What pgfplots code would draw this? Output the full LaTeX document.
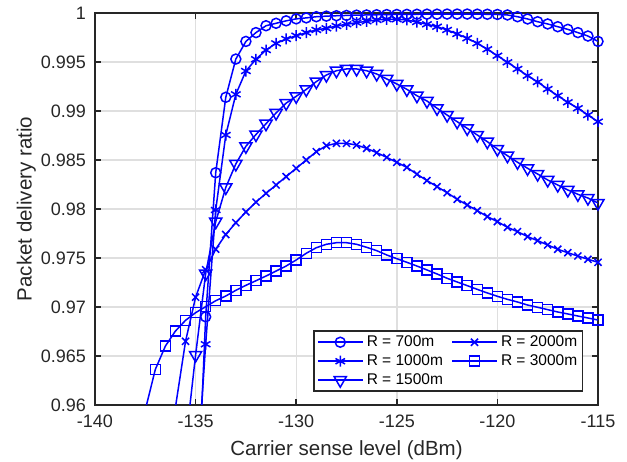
\documentclass[border=0pt]{standalone}
\usepackage{fontspec}
\setmainfont{Liberation Sans}
\usepackage{pgfplots}
\pgfplotsset{compat=1.18}
\definecolor{axgray}{RGB}{38,38,38}
\definecolor{gridgray}{RGB}{223,223,223}
\definecolor{mblue}{RGB}{0,0,255}

\begin{document}
\begin{tikzpicture}
\useasboundingbox (-95bp,-57bp) rectangle (532bp,405bp);
\begin{axis}[
    at={(0,0)}, anchor=south west,
    scale only axis,
    width=503bp, height=392bp,
    xmin=-140, xmax=-115,
    ymin=0.96, ymax=1,
    xtick={-140,-135,-130,-125,-120,-115},
    xticklabels={-140,-135,-130,-125,-120,-115},
    ytick={0.96,0.965,0.97,0.975,0.98,0.985,0.99,0.995,1},
    yticklabels={0.96,0.965,0.97,0.975,0.98,0.985,0.99,0.995,1},
    tick align=inside,
    major tick length=6bp,
    axis line style={axgray, line width=1.6bp},
    every tick/.style={axgray, line width=1.6bp},
    grid=major,
    major grid style={gridgray, line width=1.4bp},
    xticklabel style={font=\fontsize{18bp}{20bp}\selectfont, text=axgray, anchor=base, inner sep=0pt, yshift=-23bp},
    yticklabel style={font=\fontsize{18bp}{20bp}\selectfont, text=axgray, anchor=east, inner sep=0pt, xshift=-9bp},
    xlabel={Carrier sense level (dBm)},
    ylabel={Packet delivery ratio},
    every axis x label/.style={at={(axis description cs:0.5,-0.1276)}, anchor=base, font=\fontsize{20.5bp}{23bp}\selectfont, text=axgray},
    every axis y label/.style={at={(axis description cs:-0.1262,0.5)}, rotate=90, anchor=base, font=\fontsize{20.5bp}{23bp}\selectfont, text=axgray},
    legend columns=2,
    legend cell align=left,
    legend image code/.code={%
        \pgfpathrectangle{\pgfpoint{0bp}{-4bp}}{\pgfpoint{45bp}{8bp}}%
        \pgfusepath{use as bounding box}%
        \draw[mark repeat=2,mark phase=2] plot coordinates {(0bp,0bp) (22.5bp,0bp) (45bp,0bp)};},
    legend style={
        at={(axis description cs:0.9702,0.0332)}, anchor=south east,
        draw=axgray, line width=1.5bp, fill=white,
        font=\fontsize{15.5bp}{17bp}\selectfont,
        inner xsep=4bp, inner ysep=3bp,
        row sep=3bp,
        nodes={inner sep=1bp, text height=11bp, text depth=3bp},
        /tikz/every odd column/.append style={column sep=3bp},
        /tikz/every even column/.append style={column sep=8bp},
    },
    every axis plot/.append style={mblue, line width=1.5bp},
]

% R = 700m
\addplot[mark=o, mark size=5bp] coordinates {
(-135,0.945) (-134.5,0.9690) (-134,0.9837) (-133.5,0.9914) (-133,0.9953) (-132.5,0.9971)
(-132,0.9980) (-131.5,0.9987) (-131,0.99895) (-130.5,0.9992) (-130,0.9994) (-129.5,0.9995)
(-129,0.99962) (-128.5,0.99968) (-128,0.99972) (-127.5,0.99975) (-127,0.99978) (-126.5,0.99980)
(-126,0.99982) (-125.5,0.99984) (-125,0.99985) (-124.5,0.99986) (-124,0.99987) (-123.5,0.99988)
(-123,0.99988) (-122.5,0.99989) (-122,0.99989) (-121.5,0.99989) (-121,0.99988) (-120.5,0.99987)
(-120,0.99985) (-119.5,0.9998) (-119,0.99962) (-118.5,0.99939) (-118,0.99911) (-117.5,0.99888)
(-117,0.9986) (-116.5,0.99833) (-116,0.9980) (-115.5,0.99765) (-115,0.9971)
};
\addlegendentry{R = 700m}

% R = 2000m
\addplot[mark=x, mark size=5bp] coordinates {
(-136.5,0.951) (-136,0.9598) (-135.5,0.9665) (-135,0.9710) (-134.5,0.9738) (-134,0.9759)
(-133.5,0.9774) (-133,0.9786) (-132.5,0.9797) (-132,0.9807) (-131.5,0.9816) (-131,0.98245)
(-130.5,0.9833) (-130,0.98415) (-129.5,0.9850) (-129,0.98585) (-128.5,0.98646) (-128,0.98670)
(-127.5,0.98670) (-127,0.98653) (-126.5,0.98619) (-126,0.98575) (-125.5,0.98527) (-125,0.98476)
(-124.5,0.98425) (-124,0.98355) (-123.5,0.98290) (-123,0.98228) (-122.5,0.98166) (-122,0.98099)
(-121.5,0.98041) (-121,0.97983) (-120.5,0.97922) (-120,0.97871) (-119.5,0.97813) (-119,0.97769)
(-118.5,0.97718) (-118,0.97677) (-117.5,0.97633) (-117,0.97589) (-116.5,0.97554) (-116,0.97520)
(-115.5,0.97487) (-115,0.97456)
};
\addlegendentry{R = 2000m}

% R = 1000m
\addplot[mark=asterisk, mark size=5.5bp] coordinates {
(-135,0.9507) (-134.5,0.9662) (-134,0.9799) (-133.5,0.98755) (-133,0.99170) (-132.5,0.99408)
(-132,0.99528) (-131.5,0.99622) (-131,0.99690) (-130.5,0.99735) (-130,0.99768) (-129.5,0.99799)
(-129,0.99827) (-128.5,0.99844) (-128,0.99867) (-127.5,0.99885) (-127,0.99901) (-126.5,0.99915)
(-126,0.99929) (-125.5,0.99936) (-125,0.99936) (-124.5,0.99929) (-124,0.99908) (-123.5,0.99885)
(-123,0.99860) (-122.5,0.99827) (-122,0.99786) (-121.5,0.99742) (-121,0.99691) (-120.5,0.99630)
(-120,0.99564) (-119.5,0.99497) (-119,0.99429) (-118.5,0.99360) (-118,0.99296) (-117.5,0.99224)
(-117,0.99156) (-116.5,0.99089) (-116,0.99028) (-115.5,0.98959) (-115,0.98891)
};
\addlegendentry{R = 1000m}

% R = 3000m
\addplot[mark=square, mark size=5bp] coordinates {
(-137.5,0.9595) (-137,0.96364) (-136.5,0.96602) (-136,0.96755) (-135.5,0.96864) (-135,0.96942)
(-134.5,0.97003) (-134,0.97064) (-133.5,0.97112) (-133,0.97170) (-132.5,0.97221) (-132,0.97268)
(-131.5,0.97316) (-131,0.97367) (-130.5,0.97418) (-130,0.97480) (-129.5,0.97548) (-129,0.97605)
(-128.5,0.97640) (-128,0.97656) (-127.5,0.97656) (-127,0.97640) (-126.5,0.97609) (-126,0.97575)
(-125.5,0.97531) (-125,0.97493) (-124.5,0.97456) (-124,0.97418) (-123.5,0.97378) (-123,0.97337)
(-122.5,0.97293) (-122,0.97255) (-121.5,0.97218) (-121,0.97180) (-120.5,0.97143) (-120,0.97109)
(-119.5,0.97078) (-119,0.97051) (-118.5,0.97020) (-118,0.96997) (-117.5,0.96973) (-117,0.96949)
(-116.5,0.96929) (-116,0.96908) (-115.5,0.96888) (-115,0.96867)
};
\addlegendentry{R = 3000m}

% R = 1500m
\addplot[mark=triangle, mark size=7bp, mark options={rotate=180}] coordinates {
(-135.5,0.956) (-135,0.9651) (-134.5,0.9734) (-134,0.9787) (-133.5,0.9822) (-133,0.9846)
(-132.5,0.9864) (-132,0.9876) (-131.5,0.9887) (-131,0.9898) (-130.5,0.9908) (-130,0.9915)
(-129.5,0.9922) (-129,0.9930) (-128.5,0.99367) (-128,0.99411) (-127.5,0.99429) (-127,0.99429)
(-126.5,0.99411) (-126,0.99378) (-125.5,0.99327) (-125,0.99276) (-124.5,0.99221) (-124,0.99156)
(-123.5,0.99102) (-123,0.99028) (-122.5,0.98959) (-122,0.98891) (-121.5,0.98823) (-121,0.98755)
(-120.5,0.98687) (-120,0.98612) (-119.5,0.98544) (-119,0.98477) (-118.5,0.98415) (-118,0.98357)
(-117.5,0.98296) (-117,0.98245) (-116.5,0.98194) (-116,0.98150) (-115.5,0.98112) (-115,0.98061)
};
\addlegendentry{R = 1500m}

\end{axis}
\end{tikzpicture}
\end{document}
